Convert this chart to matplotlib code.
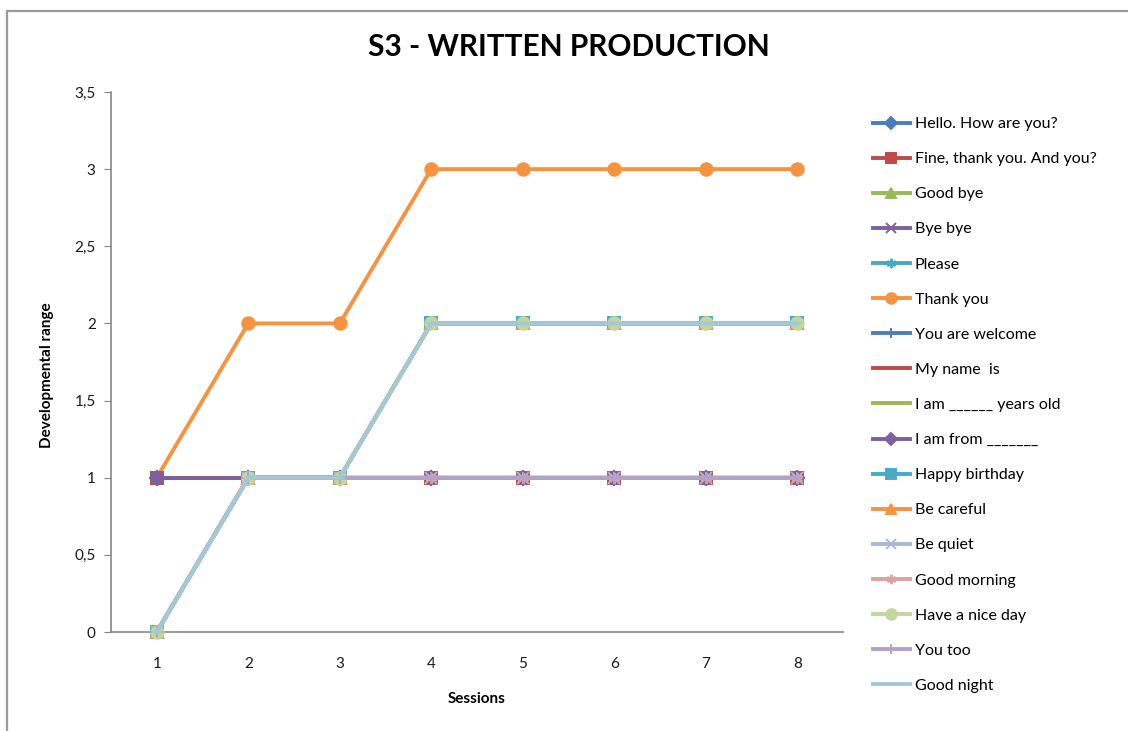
import matplotlib
matplotlib.use("Agg")
import matplotlib.pyplot as plt
from matplotlib.patches import Rectangle
from matplotlib.ticker import FuncFormatter

plt.rcParams['font.family'] = ['Lato', 'DejaVu Sans']

sessions = [1, 2, 3, 4, 5, 6, 7, 8]

phrases = [
    "Hello. How are you?",
    "Fine, thank you. And you?",
    "Good bye",
    "Bye bye",
    "Please",
    "Thank you",
    "You are welcome",
    "My name  is",
    "I am ______ years old",
    "I am from _______",
    "Happy birthday",
    "Be careful",
    "Be quiet",
    "Good morning",
    "Have a nice day",
    "You too",
    "Good night",
]

hello = [1, 1, 1, 1, 1, 1, 1, 1]
fine = [1, 1, 1, 1, 1, 1, 1, 1]
good_bye = [0, 1, 1, 2, 2, 2, 2, 2]
bye_bye = [1, 1, 1, 1, 1, 1, 1, 1]
please = [0, 1, 1, 2, 2, 2, 2, 2]
thank_you = [1, 2, 2, 3, 3, 3, 3, 3]
you_are_welcome = [1, 1, 1, 1, 1, 1, 1, 1]
my_name_is = [1, 1, 1, 1, 1, 1, 1, 1]
years_old = [0, 1, 1, 2, 2, 2, 2, 2]
i_am_from = [1, 1, 1, 1, 1, 1, 1, 1]
happy_birthday = [0, 1, 1, 2, 2, 2, 2, 2]
be_careful = [0, 1, 1, 2, 2, 2, 2, 2]
be_quiet = [0, 1, 1, 1, 1, 1, 1, 1]
good_morning = [0, 1, 1, 1, 1, 1, 1, 1]
nice_day = [0, 1, 1, 2, 2, 2, 2, 2]
you_too = [0, 1, 1, 1, 1, 1, 1, 1]
good_night = [0, 1, 1, 2, 2, 2, 2, 2]

series = [hello, fine, good_bye, bye_bye, please, thank_you, you_are_welcome,
          my_name_is, years_old, i_am_from, happy_birthday, be_careful,
          be_quiet, good_morning, nice_day, you_too, good_night]

colors = ["#4A7EBB", "#BE4B48", "#98B954", "#7D60A0", "#46AAC5", "#F69240",
          "#4A7EBB", "#BE4B48", "#98B954", "#7D60A0", "#46AAC5", "#F69240",
          "#A9B8D6", "#D9A3A2", "#C3D69B", "#B3A2C7", "#A5C8D8"]
asterisk = (6, 2, 0)
markers = ["D", "s", "^", "x", asterisk, "o", "+", "_", "_", "D", "s", "^",
           "x", asterisk, "o", "+", "_"]
msizes = [7, 8, 8, 8, 8, 9, 9, 7, 7, 7, 8, 8, 8, 8, 9, 9, 7]

fig = plt.figure(figsize=(11.28, 7.31), dpi=100)

# outer chart-area frame
fig.patches.append(Rectangle((7 / 1128, -0.05), 1.2, (731 - 11) / 731 + 0.05,
                             transform=fig.transFigure, fill=False,
                             edgecolor="#9A9A9A", linewidth=1.6))

ax = fig.add_axes([111 / 1128, 99 / 731, 732 / 1128, 540 / 731])

for i, (name, vals) in enumerate(zip(phrases, series)):
    z = 2 if name == "Thank you" else 3
    ax.plot(sessions, vals, color=colors[i], lw=2.8, marker=markers[i],
            markersize=msizes[i], markerfacecolor=colors[i],
            markeredgecolor=colors[i], markeredgewidth=1.4,
            label=name, zorder=z + i * 0.01, clip_on=False)

ax.set_xlim(0.5, 8.5)
ax.set_ylim(0, 3.5)
ax.set_yticks([0, 0.5, 1, 1.5, 2, 2.5, 3, 3.5])
ax.yaxis.set_major_formatter(FuncFormatter(
    lambda v, p: (f"{v:g}").replace(".", ",")))
ax.set_xticks(sessions)

for s in ["top", "right"]:
    ax.spines[s].set_visible(False)
for s in ["left", "bottom"]:
    ax.spines[s].set_color("#868686")
    ax.spines[s].set_linewidth(1.2)

ax.tick_params(axis="y", length=5, color="#868686", labelsize=11, pad=6,
               labelcolor="#1A1A1A")
ax.tick_params(axis="x", length=0, labelsize=11, pad=18, labelcolor="#1A1A1A")

ax.set_xlabel("Sessions", fontsize=11, fontweight="bold", labelpad=15)
ax.set_ylabel("Developmental range", fontsize=11, fontweight="bold")
ax.yaxis.set_label_coords(-57 / 732, 0.475)

fig.text(569 / 1128, 1 - 47 / 731, "S3 - WRITTEN PRODUCTION", ha="center",
         va="center", fontsize=21.5, fontweight="bold")

fig.legend(loc="upper left", bbox_to_anchor=(873 / 1128, 1 - 117 / 731),
           frameon=False, fontsize=11.5, handlelength=2.3, handletextpad=0.3,
           labelspacing=1.31, borderaxespad=0, borderpad=0,
           markerscale=0.85)

fig.savefig("out.png", dpi=100)
